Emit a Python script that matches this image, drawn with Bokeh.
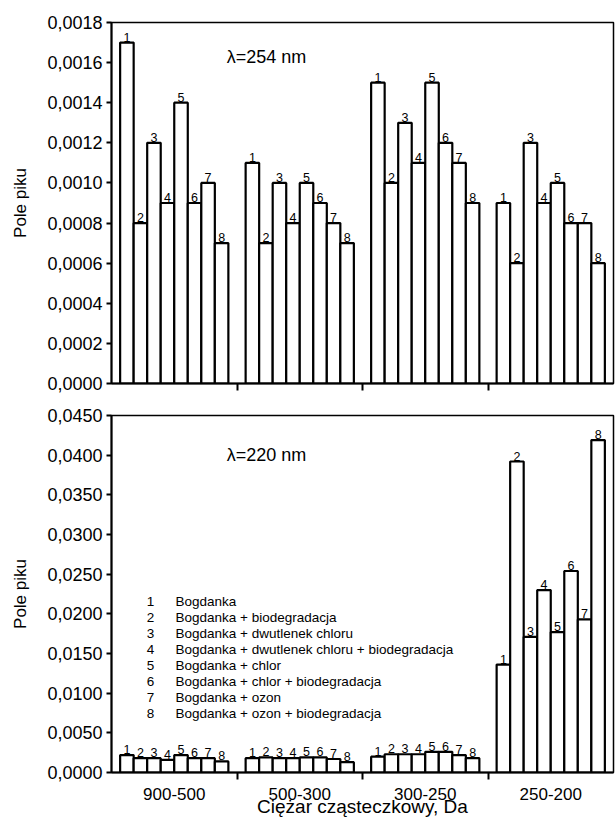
from bokeh.plotting import figure
from bokeh.layouts import column
from bokeh.models import FixedTicker, CustomJSTickFormatter, ColumnDataSource, Label
from bokeh.embed import file_html
from bokeh.resources import INLINE
from bokeh.core.properties import value

# ---------------- data ----------------
categories = ["900-500", "500-300", "300-250", "250-200"]
series_ids = ["1", "2", "3", "4", "5", "6", "7", "8"]
legend_texts = [
    "Bogdanka",
    "Bogdanka + biodegradacja",
    "Bogdanka + dwutlenek chloru",
    "Bogdanka + dwutlenek chloru + biodegradacja",
    "Bogdanka + chlor",
    "Bogdanka + chlor + biodegradacja",
    "Bogdanka + ozon",
    "Bogdanka + ozon + biodegradacja",
]

# lambda = 254 nm, peak area per molecular-weight fraction (series 1..8)
a254_900_500 = [0.0017, 0.0008, 0.0012, 0.0009, 0.0014, 0.0009, 0.0010, 0.0007]
a254_500_300 = [0.0011, 0.0007, 0.0010, 0.0008, 0.0010, 0.0009, 0.0008, 0.0007]
a254_300_250 = [0.0015, 0.0010, 0.0013, 0.0011, 0.0015, 0.0012, 0.0011, 0.0009]
a254_250_200 = [0.0009, 0.0006, 0.0012, 0.0009, 0.0010, 0.0008, 0.0008, 0.0006]

# lambda = 220 nm
a220_900_500 = [0.0022, 0.0018, 0.0018, 0.0016, 0.0022, 0.0018, 0.0018, 0.0014]
a220_500_300 = [0.0018, 0.0019, 0.0018, 0.0018, 0.0019, 0.0019, 0.0017, 0.0013]
a220_300_250 = [0.0020, 0.0023, 0.0023, 0.0023, 0.0026, 0.0026, 0.0022, 0.0018]
a220_250_200 = [0.0136, 0.0392, 0.0171, 0.0230, 0.0177, 0.0254, 0.0193, 0.0419]

y_ticks_254 = [0.0000, 0.0002, 0.0004, 0.0006, 0.0008, 0.0010, 0.0012, 0.0014, 0.0016, 0.0018]
y_ticks_220 = [0.0000, 0.0050, 0.0100, 0.0150, 0.0200, 0.0250, 0.0300, 0.0350, 0.0400, 0.0450]

title_254 = "\u03bb=254 nm"
title_220 = "\u03bb=220 nm"
y_title = "Pole piku"
x_title = "Ciężar cząsteczkowy, Da"

FONT = "Liberation Sans"
BAR_W = 0.1078


def bar_source(groups):
    xs, tops, ids = [], [], []
    for gi, vals in enumerate(groups):
        for j, v in enumerate(vals):
            xs.append(gi + 0.5 + (j - 3.5) * BAR_W)
            tops.append(v)
            ids.append(series_ids[j])
    return ColumnDataSource(dict(x=xs, top=tops, id=ids))


def make_fig(groups, ymax, yticks, height, b_top, b_bottom, show_xlabels, title_text, title_y):
    p = figure(width=615, height=height, x_range=(0, 4), y_range=(0, ymax),
               output_backend="svg", toolbar_location=None,
               min_border_left=111, min_border_right=2,
               min_border_top=b_top, min_border_bottom=b_bottom)
    p.grid.visible = False
    p.outline_line_color = "black"
    p.outline_line_width = 1.5
    p.background_fill_color = "white"
    p.border_fill_color = "white"

    src = bar_source(groups)
    p.vbar(x="x", top="top", bottom=0, width=BAR_W, source=src,
           fill_color="white", line_color="black", line_width=2.2)
    p.text(x="x", y="top", text="id", source=src, text_align="center",
           text_baseline="bottom", y_offset=-1, text_font=value(FONT),
           text_font_size="12.5px", text_color="black")

    p.add_layout(Label(x=1.235, y=title_y, text=title_text, text_align="center",
                       text_baseline="middle", text_font=FONT,
                       text_font_size="18px", text_color="black"))

    # y axis
    ya = p.yaxis[0]
    ya.ticker = FixedTicker(ticks=yticks)
    ya.formatter = CustomJSTickFormatter(code="return tick.toFixed(4).replace('.', ',');")
    ya.major_label_text_font = FONT
    ya.major_label_text_font_size = "18px"
    ya.major_label_text_color = "black"
    ya.major_tick_in = 0
    ya.major_tick_out = 5
    ya.major_tick_line_width = 2
    ya.minor_tick_line_color = None
    ya.axis_line_width = 2
    ya.axis_label = y_title
    ya.axis_label_text_font = FONT
    ya.axis_label_text_font_style = "normal"
    ya.axis_label_text_font_size = "17px"
    ya.axis_label_text_color = "black"
    ya.axis_label_standoff = 14
    ya.major_label_standoff = 4

    # x axis: labels at group centres, tick marks at group boundaries
    xa = p.xaxis[0]
    if show_xlabels:
        xa.ticker = FixedTicker(ticks=[0.5, 1.5, 2.5, 3.5], minor_ticks=[1, 2, 3])
        xa.major_label_overrides = {0.5 + i: c for i, c in enumerate(categories)}
    else:
        xa.ticker = FixedTicker(ticks=[], minor_ticks=[1, 2, 3])
    xa.major_tick_line_color = None
    xa.major_tick_in = 0
    xa.major_tick_out = 0
    xa.minor_tick_in = 0
    xa.minor_tick_out = 7
    xa.minor_tick_line_width = 2
    xa.axis_line_width = 2
    xa.major_label_text_font = FONT
    xa.major_label_text_color = "black"
    xa.major_label_text_font_size = "17px"
    if show_xlabels:
        xa.major_label_standoff = 8
        xa.axis_label = x_title
        xa.axis_label_text_font = FONT
        xa.axis_label_text_font_style = "normal"
        xa.axis_label_text_font_size = "19px"
        xa.axis_label_text_color = "black"
        xa.axis_label_standoff = -7
    else:
        xa.major_label_standoff = 0
    return p


top = make_fig([a254_900_500, a254_500_300, a254_300_250, a254_250_200],
               0.0018, y_ticks_254, 395, 22, 12, False, title_254, 0.00163)
bottom = make_fig([a220_900_500, a220_500_300, a220_300_250, a220_250_200],
                  0.045, y_ticks_220, 424, 20, 46, True, title_220, 0.0400)

# legend text block in the 220 nm panel
leg_src = ColumnDataSource(dict(
    xn=[0.31] * 8, xt=[0.51] * 8,
    y=[0.0215 - k * 0.00201 for k in range(8)],
    n=series_ids, t=legend_texts))
bottom.text(x="xn", y="y", text="n", source=leg_src, text_align="center",
            text_baseline="middle", text_font=value(FONT), text_font_size="13.5px",
            text_color="black")
bottom.text(x="xt", y="y", text="t", source=leg_src, text_align="left",
            text_baseline="middle", text_font=value(FONT), text_font_size="13.5px",
            text_color="black")

layout = column(top, bottom, spacing=0)
open("out.html", "w").write(file_html(layout, INLINE))
